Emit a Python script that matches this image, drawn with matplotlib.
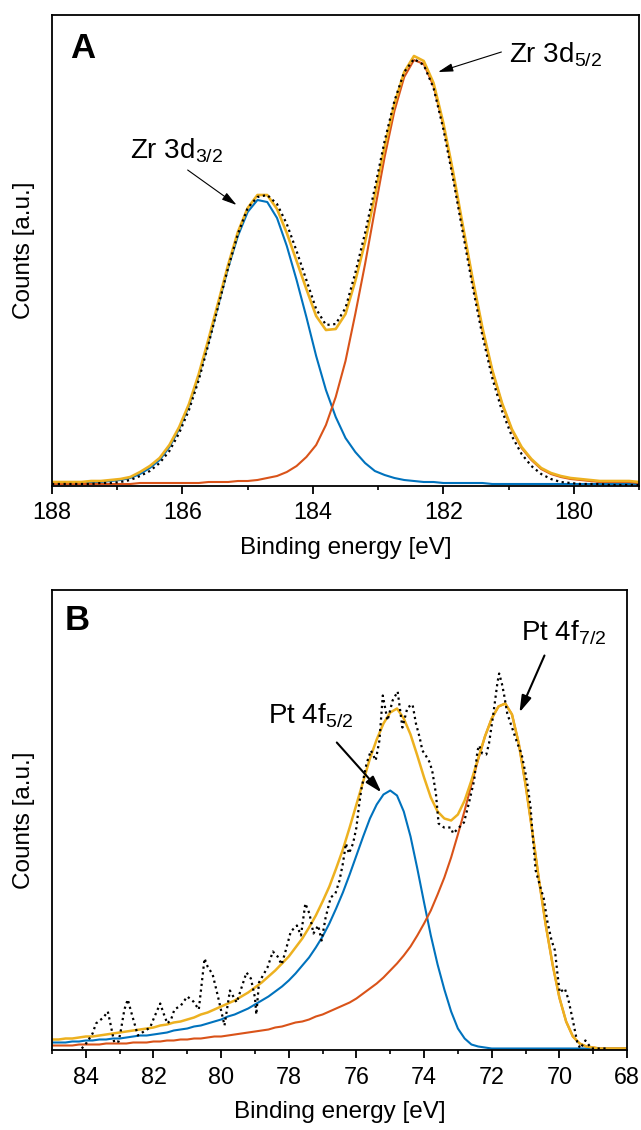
import numpy as np
import matplotlib
matplotlib.use('Agg')
import matplotlib.pyplot as plt
from matplotlib.ticker import MultipleLocator

plt.rcParams['font.family'] = ['Liberation Sans', 'DejaVu Sans']
plt.rcParams['mathtext.fontset'] = 'custom'
plt.rcParams['mathtext.rm'] = 'Liberation Sans'

BLUE = '#0072BD'
RED = '#D95319'
YELLOW = '#EDB120'

# ---- panel A : Zr 3d (0.15 eV steps from 188 to 179) ----
zr_energy = np.linspace(188.0, 179.0, 61)
zr_d32 = [2, 2, 2, 2, 3, 3, 4, 5, 7, 11, 17, 25, 38, 56, 79, 109, 143, 180, 217, 249,
          273, 285, 283, 267, 239, 205, 168, 129, 95, 68, 47, 33, 22, 14, 10, 7, 5, 4, 3, 3,
          2, 2, 2, 2, 2, 1, 1, 1, 1, 1, 1, 1, 1, 1, 1, 1, 1, 1, 1, 1, 1]
zr_d52 = [1, 1, 1, 1, 1, 1, 1, 1, 1, 2, 2, 2, 2, 2, 2, 2, 3, 3, 3, 4,
          4, 5, 7, 9, 13, 19, 28, 40, 60, 88, 124, 171, 221, 275, 328, 374, 408, 425, 421, 399,
          360, 311, 257, 204, 155, 114, 81, 55, 37, 25, 16, 11, 8, 6, 5, 4, 3, 3, 3, 3, 2]
zr_fit = [3, 3, 3, 3, 4, 4, 5, 6, 8, 13, 19, 27, 40, 58, 81, 111, 146, 183, 220, 253,
          277, 290, 290, 276, 252, 224, 196, 169, 155, 156, 171, 204, 243, 289, 338, 381, 413, 429, 424, 402,
          362, 313, 259, 206, 157, 115, 82, 56, 38, 26, 17, 12, 9, 7, 6, 5, 4, 4, 4, 4, 3]
zr_counts = [1, 1, 1, 1, 1, 2, 2, 3, 5, 9, 14, 22, 34, 52, 75, 105, 141, 179, 217, 251,
             277, 288, 290, 281, 261, 234, 205, 176, 160, 161, 177, 212, 252, 297, 344, 384, 413, 426, 420, 397,
             356, 306, 252, 198, 149, 107, 74, 49, 31, 19, 11, 6, 3, 2, 1, 1, 1, 0, 0, 0, 0]

# ---- panel B : Pt 4f (0.2 eV steps from 85 to 68) ----
pt_energy = np.linspace(85.0, 68.0, 86)
pt_f52 = [6, 6, 6, 7, 7, 8, 8, 9, 9, 10, 10, 11, 12, 13, 13, 14, 15, 16, 18, 19,
          20, 22, 23, 25, 27, 29, 32, 34, 37, 40, 44, 48, 52, 57, 62, 68, 75, 83, 91, 101,
          112, 125, 140, 156, 174, 193, 212, 230, 244, 254, 258, 253, 237, 212, 180, 146, 113, 84, 59, 37,
          20, 10, 4, 2, 1, 0, 0, 0, 0, 0, 0, 0, 0, 0, 0, 0, 0, 0, 0, 0, 0, 0, 0, 0, 0, 0]
pt_f72 = [3, 3, 3, 3, 4, 4, 4, 4, 5, 5, 5, 5, 6, 6, 6, 7, 7, 8, 8, 9,
          9, 10, 10, 11, 12, 12, 13, 14, 15, 16, 17, 18, 19, 21, 22, 24, 26, 27, 29, 32,
          34, 37, 40, 43, 46, 50, 55, 60, 65, 71, 78, 85, 93, 102, 113, 125, 138, 154, 171, 191,
          214, 238, 264, 289, 312, 330, 342, 345, 334, 305, 264, 217, 168, 123, 84, 51, 27, 12, 5, 2,
          1, 0, 0, 0, 0, 0]
pt_fit = [9, 9, 10, 10, 11, 12, 12, 13, 14, 15, 16, 17, 18, 19, 20, 21, 23, 24, 26, 27,
          29, 31, 34, 36, 39, 42, 45, 48, 52, 56, 61, 66, 72, 78, 85, 92, 101, 110, 121, 133,
          147, 162, 180, 199, 221, 244, 267, 290, 309, 325, 336, 340, 330, 314, 293, 271, 251, 237, 230, 228,
          234, 248, 268, 290, 312, 330, 342, 345, 334, 305, 264, 217, 168, 123, 84, 51, 27, 12, 5, 2,
          1, 0, 0, 0, 0, 0]
pt_meas_e = [84.12, 83.97, 83.80, 83.70, 83.48, 83.35, 83.28, 83.16, 83.03, 82.96,
             82.86, 82.76, 82.63, 82.46, 82.33, 82.10, 81.98, 81.80, 81.70, 81.59,
             81.48, 81.38, 81.19, 81.00, 80.82, 80.66, 80.49, 80.40, 80.25, 80.10,
             79.90, 79.74, 79.54, 79.25, 79.12, 79.00, 78.96, 78.88, 78.63, 78.47,
             78.33, 78.21, 78.09, 77.94, 77.76, 77.64, 77.51, 77.39, 77.27, 77.13,
             77.03, 76.91, 76.76, 76.62, 76.50, 76.40, 76.31, 76.22, 76.10, 76.00,
             75.93, 75.86, 75.70, 75.57, 75.43, 75.32, 75.22, 75.08, 74.93, 74.78,
             74.64, 74.49, 74.34, 74.24, 74.13, 74.05, 73.95, 73.83, 73.75, 73.65,
             73.57, 73.41, 73.21, 73.14, 72.82, 72.67, 72.52, 72.42, 72.37, 72.28,
             72.16, 72.08, 71.95, 71.83, 71.78, 71.70, 71.64, 71.54, 71.44, 71.24,
             71.12, 71.00, 70.93, 70.85, 70.80, 70.70, 70.55, 70.46, 70.36, 70.23,
             70.13, 70.06, 69.99, 69.84, 69.74, 69.60, 69.47, 69.38, 69.23, 69.05,
             68.54]
pt_meas = [0, 6, 15, 25, 31, 37, 26, 6, 7, 19,
           39, 49, 33, 13, 16, 21, 31, 45, 35, 25,
           29, 39, 43, 52, 47, 39, 90, 82, 74, 53,
           23, 58, 46, 76, 70, 51, 34, 66, 81, 97,
           92, 84, 98, 117, 123, 113, 145, 135, 115, 123,
           108, 131, 151, 155, 168, 185, 205, 195, 205, 221,
           241, 258, 285, 298, 288, 308, 353, 328, 348, 357,
           321, 341, 344, 325, 311, 298, 293, 286, 276, 255,
           225, 221, 221, 215, 226, 246, 268, 298, 303, 295,
           294, 305, 335, 366, 375, 365, 355, 335, 325, 305,
           295, 275, 261, 241, 218, 178, 160, 150, 128, 108,
           98, 76, 56, 60, 50, 28, 6, 0, 8, 0,
           0]

fig = plt.figure(figsize=(6.41, 11.30), dpi=100)
axA = fig.add_axes([52/641, 1-485.5/1130, 587/641, 470.5/1130])
axB = fig.add_axes([52/641, 1-1050/1130, 575/641, 460/1130])

dots = (0, (1, 1.6))
axA.plot(zr_energy, zr_d32, color=BLUE, lw=1.5)
axA.plot(zr_energy, zr_d52, color=RED, lw=1.5)
axA.plot(zr_energy, zr_fit, color=YELLOW, lw=1.9)
axA.plot(zr_energy, zr_counts, color='black', lw=1.6, ls=dots)

axB.plot(pt_energy, pt_f52, color=BLUE, lw=1.5)
axB.plot(pt_energy, pt_f72, color=RED, lw=1.5)
axB.plot(pt_energy, pt_fit, color=YELLOW, lw=1.8)
axB.plot(pt_meas_e, pt_meas, color='black', lw=1.6, ls=dots)

axA.set_xlim(188, 179)
axA.set_ylim(-0.5, 470)
axB.set_xlim(85, 68)
axB.set_ylim(-1.5, 458.5)

for ax in (axA, axB):
    ax.set_yticks([])
    ax.xaxis.set_major_locator(MultipleLocator(2))
    ax.xaxis.set_minor_locator(MultipleLocator(1))
    ax.tick_params(axis='x', which='major', direction='out', length=5.5, width=1.3,
                   labelsize=16.8, pad=6)
    ax.tick_params(axis='x', which='minor', direction='out', length=3, width=1.2)
    for sp in ax.spines.values():
        sp.set_linewidth(1.3)
    ax.set_xlabel('Binding energy [eV]', fontsize=17.5, labelpad=9)
    ax.set_ylabel('Counts [a.u.]', fontsize=17.5, labelpad=12)

axA.text(0.031, 0.909, 'A', transform=axA.transAxes, fontsize=25, fontweight='bold')
axB.text(0.022, 0.913, 'B', transform=axB.transAxes, fontsize=25, fontweight='bold')

thin = dict(arrowstyle='-|>,head_length=0.9,head_width=0.25', lw=0.8, color='black',
            shrinkA=0, shrinkB=0, mutation_scale=10)
thick = dict(arrowstyle='-|>,head_length=1.0,head_width=0.3', lw=1.5, color='black',
             shrinkA=0, shrinkB=0, mutation_scale=10)

axA.text(186.80, 327, 'Zr 3d$_{\\mathrm{3/2}}$', fontsize=20)
axA.annotate('', xy=(185.17, 280), xytext=(185.92, 315), arrowprops=thin)
axA.text(180.99, 423, 'Zr 3d$_{\\mathrm{5/2}}$', fontsize=20)
axA.annotate('', xy=(182.08, 413), xytext=(181.11, 433), arrowprops=thin)

axB.text(78.61, 325, 'Pt 4f$_{\\mathrm{5/2}}$', fontsize=20)
axB.annotate('', xy=(75.26, 256), xytext=(76.58, 306), arrowprops=thick)
axB.text(71.12, 408, 'Pt 4f$_{\\mathrm{7/2}}$', fontsize=20)
axB.annotate('', xy=(71.18, 336), xytext=(70.44, 393), arrowprops=thick)

fig.savefig('out.png', dpi=100)
